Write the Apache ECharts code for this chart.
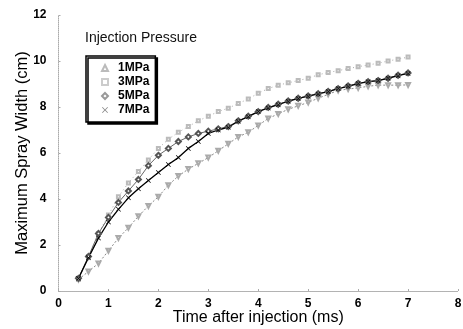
<!DOCTYPE html>
<html>
<head>
<meta charset="utf-8">
<script src="https://cdn.jsdelivr.net/npm/echarts@6/dist/echarts.min.js"></script>
<style>
  html, body { margin: 0; padding: 0; background: #fff; }
  #chart { width: 463px; height: 329px; }
</style>
</head>
<body>
<div id="chart"></div>
<script>
// Time after injection (ms)
const times = [0.4, 0.6, 0.8, 1.0, 1.2, 1.4, 1.6, 1.8, 2.0, 2.2, 2.4, 2.6, 2.8, 3.0, 3.2, 3.4, 3.6,
               3.8, 4.0, 4.2, 4.4, 4.6, 4.8, 5.0, 5.2, 5.4, 5.6, 5.8, 6.0, 6.2, 6.4, 6.6, 6.8, 7.0];

// Maximum spray width (cm) per injection pressure
const width1MPa = [0.5, 0.85, 1.2, 1.75, 2.3, 2.75, 3.25, 3.7, 4.1, 4.6, 5.0, 5.3, 5.55, 5.8, 6.1, 6.4, 6.7,
                   6.9, 7.2, 7.5, 7.7, 7.9, 8.05, 8.2, 8.38, 8.55, 8.72, 8.78, 8.83, 8.9, 8.95, 8.95, 8.95, 8.96];
const width3MPa = [0.5, 1.5, 2.5, 3.3, 4.1, 4.7, 5.2, 5.7, 6.2, 6.6, 6.9, 7.15, 7.4, 7.6, 7.8, 7.95, 8.15,
                   8.35, 8.6, 8.8, 8.95, 9.05, 9.15, 9.25, 9.4, 9.5, 9.58, 9.67, 9.75, 9.83, 9.9, 10.0, 10.08, 10.17];
const width5MPa = [0.55, 1.5, 2.5, 3.2, 3.85, 4.35, 4.85, 5.45, 5.9, 6.2, 6.5, 6.7, 6.85, 6.95, 7.05, 7.15, 7.4,
                   7.6, 7.8, 7.98, 8.12, 8.26, 8.38, 8.48, 8.58, 8.68, 8.8, 8.92, 9.03, 9.1, 9.15, 9.25, 9.38, 9.48];
const width7MPa = [0.55, 1.45, 2.3, 3.0, 3.55, 4.05, 4.45, 4.8, 5.15, 5.5, 5.8, 6.2, 6.5, 6.85, 7.0, 7.12, 7.38,
                   7.58, 7.8, 7.96, 8.1, 8.25, 8.37, 8.47, 8.57, 8.67, 8.8, 8.9, 9.02, 9.1, 9.15, 9.25, 9.36, 9.46];

const seriesNames = ['1MPa', '3MPa', '5MPa', '7MPa'];
const xTicks = [0, 1, 2, 3, 4, 5, 6, 7, 8];
const yTicks = [0, 2, 4, 6, 8, 10, 12];

const crossPath = 'path://M0,1L1,0L5,4L9,0L10,1L6,5L10,9L9,10L5,6L1,10L0,9L4,5Z';

function pairs(vals) {
  return times.map((t, i) => [t, vals[i]]);
}

const font = 'Liberation Sans, Arial, sans-serif';

const chart = echarts.init(document.getElementById('chart'), null, { renderer: 'canvas' });

chart.setOption({
  animation: false,
  backgroundColor: '#fff',
  grid: { left: 58.5, right: 5, top: 15, bottom: 38, containLabel: false, outerBoundsMode: 'none' },
  title: {
    text: 'Injection Pressure',
    left: 80, top: 26,
    textStyle: { fontFamily: font, fontSize: 14, fontWeight: 'normal', color: '#111' }
  },
  legend: {
    orient: 'vertical',
    left: 86, top: 56,
    padding: [6, 6, 6, 15],
    itemGap: 2,
    itemWidth: 6, itemHeight: 6,
    borderColor: '#000', borderWidth: 1.5,
    shadowColor: '#000', shadowOffsetX: 2, shadowOffsetY: 2, shadowBlur: 0,
    backgroundColor: '#fff',
    textStyle: { fontFamily: font, fontSize: 12, fontWeight: 'bold', color: '#000', padding: [0, 0, 0, 5] },
    data: [
      { name: seriesNames[0], icon: 'emptyTriangle', itemStyle: { color: '#bbb', borderColor: '#bbb', borderWidth: 1 } },
      { name: seriesNames[1], icon: 'emptyRect', itemStyle: { color: '#ccc', borderColor: '#ccc', borderWidth: 1 } },
      { name: seriesNames[2], icon: 'emptyDiamond', itemStyle: { color: '#999', borderColor: '#999', borderWidth: 1 } },
      { name: seriesNames[3], icon: crossPath, itemStyle: { color: '#888' } }
    ]
  },
  xAxis: {
    type: 'value', min: 0, max: 8, interval: 1,
    name: 'Time after injection (ms)', nameLocation: 'middle', nameGap: 19, nameMoveOverlap: false,
    nameTextStyle: { fontFamily: font, fontSize: 16, color: '#000', verticalAlign: 'top' },
    axisLine: { show: true, lineStyle: { color: '#aaa', type: 'dotted', width: 1 } },
    axisTick: { show: true, length: 2, inside: true, lineStyle: { color: '#aaa' } },
    splitLine: { show: false },
    axisLabel: { fontFamily: font, fontSize: 12, fontWeight: 'bold', color: '#000', margin: 7,
                 formatter: v => xTicks.includes(v) ? String(v) : '' }
  },
  yAxis: {
    type: 'value', min: 0, max: 12, interval: 2,
    name: 'Maximum Spray Width (cm)', nameLocation: 'middle', nameGap: 28, nameMoveOverlap: false,
    nameTextStyle: { fontFamily: font, fontSize: 16.5, color: '#000' },
    axisLine: { show: true, lineStyle: { color: '#aaa', type: 'dotted', width: 1 } },
    axisTick: { show: true, length: 2, inside: true, lineStyle: { color: '#aaa' } },
    splitLine: { show: false },
    axisLabel: { fontFamily: font, fontSize: 12, fontWeight: 'bold', color: '#000', margin: 12,
                 formatter: v => yTicks.includes(v) ? String(v) : '' }
  },
  series: [
    {
      name: seriesNames[0], type: 'line', data: pairs(width1MPa),
      symbol: 'emptyTriangle', symbolSize: 4, symbolRotate: 180,
      lineStyle: { color: '#888', width: 1, type: [2, 2] },
      itemStyle: { color: '#aaa', borderColor: '#aaa', borderWidth: 1 }
    },
    {
      name: seriesNames[1], type: 'line', data: pairs(width3MPa),
      symbol: 'emptyRect', symbolSize: 3,
      lineStyle: { color: '#aaa', width: 1, type: [1, 3] },
      itemStyle: { color: '#bbb', borderColor: '#bbb', borderWidth: 1 }
    },
    {
      name: seriesNames[2], type: 'line', data: pairs(width5MPa),
      symbol: 'emptyDiamond', symbolSize: 5,
      lineStyle: { color: '#666', width: 1 },
      itemStyle: { color: '#555', borderColor: '#555', borderWidth: 1 }
    },
    {
      name: seriesNames[3], type: 'line', data: pairs(width7MPa),
      symbol: crossPath, symbolSize: 5,
      lineStyle: { color: '#000', width: 1.3 },
      itemStyle: { color: '#000' }
    }
  ]
});
</script>
</body>
</html>
